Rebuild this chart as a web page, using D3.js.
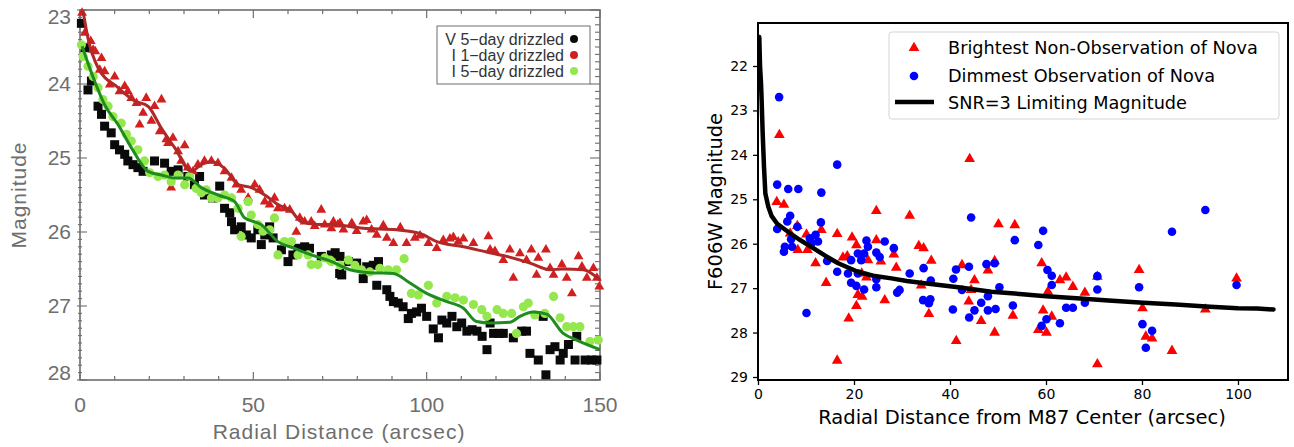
<!DOCTYPE html>
<html>
<head>
<meta charset="utf-8">
<script src="https://cdn.jsdelivr.net/npm/d3@7"></script>
<style>
  body { margin: 0; background: #fff; }
  svg { display: block; }
</style>
</head>
<body>
<svg id="chart" width="1294" height="447"></svg>
<script>
// ---- left panel data (radial distance arcsec, magnitude) ----
var leftXTicks = [0, 50, 100, 150];
var leftYTicks = [23, 24, 25, 26, 27, 28];
var leftLegend = ["V 5\u2212day drizzled", "I 1\u2212day drizzled", "I 5\u2212day drizzled"];

var vFiveDay = [
  [0.4,23.18],[1.5,23.51],[3.3,23.96],[2.3,24.08],[5.2,24.3],[6.2,24.41],[7.1,24.57],[9.0,24.66],
  [10,24.82],[11.4,24.89],[12.9,24.95],[13.8,25.04],[15.3,25.09],[16.7,25.13],[18.2,25.18],[21.5,25.04],
  [24.4,25.07],[26.3,25.18],[28.3,25.16],[31.1,25.25],[33,25.36],[34.5,25.25],[35.9,25.5],[38.3,25.54],
  [40.3,25.38],[41.7,25.68],[43.2,25.74],[43.7,25.86],[44.6,25.97],[46.5,25.93],[48,26.04],[49.4,26.08],
  [51.3,25.97],[52.3,26.17],[53.3,26.04],[54.7,25.93],[55.7,26.08],[58.1,26.24],[60,26.4],[61.4,26.31],
  [62.9,26.22],[64.8,26.2],[66.2,26.22],[69.6,26.33],[72.5,26.31],[74.9,26.56],[73.6,26.28],[75,26.33],
  [75.5,26.58],[77.4,26.4],[79.8,26.42],[81.7,26.63],[82.7,26.47],[84.6,26.45],[86.1,26.4],[85.6,26.72],
  [88.5,26.78],[89.4,26.87],[90.4,26.94],[91.8,26.96],[93.2,27.01],[94.7,27.17],[95.6,27.1],[97.1,27.08],
  [98.5,27.03],[100,27.14],[101.9,27.31],[103.4,27.43],[104.4,27.19],[105.8,27.23],[107.3,27.14],[108.7,27.28],
  [110.1,27.23],[111.6,27.34],[113.1,27.32],[114.5,27.34],[116,27.41],[117.4,27.59],[118.3,27.23],[119.3,27.37],
  [120.8,27.37],[122.1,27.37],[125,27.43],[127.4,27.34],[128.8,27.34],[129.8,27.64],[132.2,27.73],[133.6,27.14],
  [134.4,27.93],[135.6,27.59],[137,27.55],[138.5,27.73],[139.4,27.64],[140.9,27.52],[142.8,27.73],[143.3,27.41],
  [145.7,27.73],[147.6,27.73],[149.1,27.73]
];

var iOneDay = [
  [0.6,23.04],[1.4,23.31],[3.1,23.42],[3.8,23.54],[4.4,23.56],[6.2,23.65],[5.7,23.81],[7.1,23.83],
  [8.6,24.01],[10,23.9],[11.4,24.1],[12.9,24.03],[13.8,24.1],[14.8,24.19],[16.3,24.26],[19.1,24.19],
  [23.5,24.21],[18.2,24.39],[21.5,24.3],[20.6,24.5],[17.2,24.55],[23,24.64],[24.9,24.75],[26.8,24.73],
  [25.4,24.8],[28.3,24.91],[30.2,24.83],[29.2,25.04],[31.1,25.13],[32.6,25.18],[26.3,25.4],[34,25.09],
  [35.9,25.04],[37.9,25.04],[39.8,25.07],[41.7,25.18],[43.7,25.27],[45.1,25.36],[46.5,25.43],[48.5,25.54],
  [50.4,25.36],[51.8,25.43],[53.3,25.59],[54.7,25.63],[56.1,25.54],[57.1,25.68],[59,25.68],[60.5,25.7],
  [62.4,26.0],[63.4,25.81],[64.8,25.86],[66.7,25.86],[67.7,25.92],[69.6,25.7],[70.6,25.9],[72.5,25.95],
  [74.4,25.9],[73.1,25.86],[75,25.88],[76,25.97],[78.4,25.88],[79.8,25.99],[81.7,25.86],[82.7,25.84],
  [84.1,25.97],[85.6,26.04],[87.5,25.91],[88.5,26.08],[90.4,26.15],[92.4,25.94],[94.2,26.15],[96.6,26.08],
  [98.1,26.05],[100.5,26.15],[102.9,26.22],[104.8,26.11],[106.7,26.09],[107.7,26.07],[109.1,26.13],[110.6,26.09],
  [113.5,26.15],[117.8,26.06],[118.3,26.24],[119.7,26.26],[122.1,26.38],[124,26.24],[125,26.62],[126.9,26.29],
  [128.8,26.38],[130.2,26.24],[131.7,26.58],[132.2,26.35],[134.4,26.24],[135.6,26.49],[136.6,26.58],[139,26.44],
  [140.4,26.62],[141.9,26.83],[143.8,26.33],[144.8,26.47],[146.2,26.62],[148.1,26.49],[149.1,26.62],[149.8,26.74]
];

var iFiveDay = [
  [0.4,23.47],[0.9,23.63],[2.3,23.76],[3.8,23.9],[5.2,24.05],[6.6,24.21],[8.1,24.3],[9.5,24.44],
  [11.9,24.53],[13.4,24.68],[14.8,24.77],[16.7,24.89],[18.6,25.04],[20.1,25.2],[22.5,25.25],[24.4,25.23],
  [26.3,25.32],[28.3,25.23],[30.2,25.36],[31.6,25.25],[33.5,25.41],[35,25.47],[36.4,25.43],[37.9,25.54],
  [39.8,25.54],[41.7,25.5],[43.7,25.54],[45.6,25.68],[46.5,26.06],[48.5,25.59],[49.4,25.77],[51.3,25.9],
  [52.8,25.99],[54.7,25.97],[56.1,25.81],[57.1,26.31],[59,26.13],[61,26.13],[62.9,26.31],[65.8,26.31],
  [66.7,26.44],[68.6,26.44],[70.6,26.35],[72.5,26.4],[72.1,26.38],[75,26.45],[77.4,26.38],[79.3,26.45],
  [81.2,26.51],[83.6,26.54],[86.5,26.49],[88.9,26.51],[91.3,26.51],[93.5,26.36],[95.6,26.83],[97.6,26.85],
  [100.5,26.72],[102.9,26.96],[105.8,26.87],[108.2,26.89],[110.6,26.92],[113.5,26.98],[115.9,27.05],[117.4,27.14],
  [120.3,27.05],[122.1,27.1],[124.5,27.1],[125.9,27.37],[127.9,27.01],[129.3,26.96],[131.2,27.12],[134.1,27.1],
  [136.6,26.87],[138.5,27.16],[140.4,27.28],[142.3,27.28],[144.2,27.28],[147.1,27.48],[149.5,27.46]
];

var iOneDayFit = [
  [0.9,23.02],[2.3,23.38],[5.2,23.78],[11,24.05],[15.8,24.23],[19.6,24.3],[23.5,24.6],[27.3,24.86],
  [32.1,25.18],[35,25.09],[37.9,25.05],[41.7,25.14],[45.6,25.36],[49.4,25.4],[53.3,25.5],[57.1,25.63],
  [61,25.72],[63.8,25.86],[68.6,25.9],[72.1,25.9],[81.7,25.95],[91.3,25.97],[98.1,26.02],[102.9,26.13],
  [110.6,26.2],[117.3,26.27],[123.1,26.33],[129.8,26.42],[135.6,26.51],[139.4,26.5],[145.2,26.51],[150,26.65]
];

var iFiveDayFit = [
  [0.6,23.49],[4.2,23.96],[7.1,24.28],[11,24.55],[14.8,24.86],[19.6,25.18],[23.5,25.23],[27.3,25.27],
  [31.2,25.27],[35,25.4],[39.8,25.5],[44.6,25.59],[47.5,25.81],[52.3,25.9],[57.1,26.13],[61.9,26.22],
  [66.7,26.31],[72.1,26.39],[77.9,26.51],[83.6,26.55],[90.4,26.56],[95.2,26.69],[100,26.83],[105.8,26.94],
  [110.6,27.03],[114.4,27.21],[118.3,27.23],[124,27.22],[126.9,27.14],[130.7,27.08],[134.6,27.11],[139.4,27.37],
  [143.3,27.46],[150,27.59]
];

// ---- right panel data ----
var rightXTicks = [0, 20, 40, 60, 80, 100];
var rightYTicks = [22, 23, 24, 25, 26, 27, 28, 29];
var rightLegend = ["Brightest Non-Observation of Nova", "Dimmest Observation of Nova", "SNR=3 Limiting Magnitude"];

var brightestNonObs = [
  [4.45,23.55],[3.9,25.06],[5.4,25.12],[24.65,25.26],[31.6,25.37],[44.1,24.09],[50.1,25.56],[53.5,25.58],
  [8.2,25.6],[13.2,25.69],[16.5,25.78],[10.1,25.79],[6.7,25.77],[19.6,25.86],[24.65,25.92],[20.5,26.03],
  [8.3,26.14],[10.3,26.14],[33.5,26.05],[34.5,26.1],[28.3,26.24],[17.7,26.31],[18.6,26.28],[36.1,26.38],
  [12.0,26.44],[25.6,26.4],[28.8,26.54],[22.9,26.37],[14.2,26.88],[22.6,26.76],[21.6,26.67],[42.5,26.48],
  [45.1,26.82],[47.9,26.6],[49.3,26.39],[20.8,27.15],[21.7,27.19],[26.4,27.27],[20.5,27.4],[35.6,27.58],
  [43.9,27.3],[44.4,27.04],[46.5,27.74],[53.1,27.62],[18.9,27.68],[41.3,28.19],[49.3,28.0],[16.5,28.63],
  [34.0,26.94],[59.1,26.44],[62.9,26.82],[64.2,26.76],[65.6,26.97],[68.1,27.1],[70.7,26.74],[60.4,27.08],
  [59.4,27.5],[61.2,27.64],[58.4,27.94],[60.1,28.0],[79.4,26.59],[80.1,27.45],[80.8,28.09],[82.1,28.13],
  [86.25,28.41],[70.7,28.71],[93.2,27.48],[99.7,26.78]
];

var dimmestObs = [
  [4.4,22.7],[4.0,24.67],[6.3,24.77],[8.4,24.77],[13.2,24.85],[16.5,24.22],[44.4,25.41],[6.7,25.37],
  [6.1,25.5],[13.1,25.52],[8.2,25.62],[4.0,25.67],[53.5,25.92],[6.9,25.9],[5.6,26.07],[5.4,26.18],
  [7.1,26.07],[10.8,25.88],[12.0,25.8],[12.5,25.95],[11.1,26.0],[14.4,26.39],[16.5,26.63],[18.75,26.67],
  [19.4,26.37],[20.8,26.22],[22.6,25.93],[22.9,26.07],[22.1,26.22],[21.5,26.37],[24.65,26.2],[25.35,26.3],
  [26.4,25.95],[28.3,26.1],[19.4,26.88],[20.5,26.95],[22.1,27.03],[20.8,26.67],[24.65,26.98],[24.65,26.8],
  [29.0,27.1],[29.5,27.04],[31.6,26.67],[34.5,26.55],[36.0,26.83],[34.4,27.27],[35.6,27.34],[35.9,27.25],
  [10.1,27.56],[40.7,26.79],[41.25,26.58],[43.95,26.52],[47.6,26.46],[49.3,26.44],[42.5,27.04],[40.6,27.48],
  [44.0,27.66],[45.1,27.5],[46.5,27.33],[47.9,27.5],[47.9,27.18],[49.5,27.47],[50.3,26.98],[53.1,27.39],
  [59.4,25.71],[58.4,26.03],[60.3,26.59],[61.2,26.72],[61.2,26.93],[64.2,27.44],[65.6,27.44],[68.1,27.33],
  [60.1,27.7],[59.1,27.85],[62.9,27.79],[70.7,26.73],[70.7,27.03],[79.4,26.98],[86.25,25.73],[93.2,25.24],
  [99.7,26.93],[80.1,27.81],[82.1,27.96],[80.8,28.34]
];

var snrLimit = [
  [0.27,21.35],[0.42,22.0],[0.63,22.39],[0.76,22.77],[0.97,23.5],[1.25,24.27],[1.53,24.87],[2.15,25.17],
  [2.85,25.38],[4,25.55],[6.25,25.73],[8.5,25.9],[11.1,26.07],[14,26.27],[16.7,26.44],[20.8,26.63],
  [24,26.72],[27.8,26.78],[31,26.84],[34.7,26.89],[41.7,26.98],[48.6,27.08],[54.5,27.13],[60,27.18],
  [66.4,27.23],[73,27.28],[80.3,27.33],[87,27.37],[94.2,27.42],[100,27.45],[104,27.46],[107.4,27.48]
];

var svg = d3.select("#chart");

// ================= LEFT PANEL =================
var L = {left: 80, right: 600, top: 10, bottom: 380};
var lx = d3.scaleLinear().domain([0, 150]).range([L.left, L.right]);
var ly = d3.scaleLinear().domain([23, 28]).range([L.top, L.bottom]);
var grey = "#6e6e6e";
var lfont = "Liberation Sans, Arial, sans-serif";

var left = svg.append("g");

// ticks (IDL style box)
var minorX = d3.range(0, 151, 10);
var minorY = d3.range(23, 28.001, 0.1);
minorX.forEach(function(v) {
  var major = v % 50 == 0;
  var len = major ? 8 : 4;
  left.append("line").attr("x1", lx(v)).attr("x2", lx(v))
    .attr("y1", L.bottom).attr("y2", L.bottom - len).attr("stroke", grey).attr("stroke-width", 1.2);
  left.append("line").attr("x1", lx(v)).attr("x2", lx(v))
    .attr("y1", L.top).attr("y2", L.top + len).attr("stroke", grey).attr("stroke-width", 1.2);
});
minorY.forEach(function(v) {
  var major = Math.abs(v - Math.round(v)) < 0.001;
  var len = major ? 9 : 4;
  left.append("line").attr("x1", L.left - (major ? 3 : 2)).attr("x2", L.left + len - 2)
    .attr("y1", ly(v)).attr("y2", ly(v)).attr("stroke", grey).attr("stroke-width", 1.1);
  left.append("line").attr("x1", L.right).attr("x2", L.right - len - 1)
    .attr("y1", ly(v)).attr("y2", ly(v)).attr("stroke", grey).attr("stroke-width", 1.1);
});

left.append("rect")
  .attr("x", L.left).attr("y", L.top)
  .attr("width", L.right - L.left).attr("height", L.bottom - L.top)
  .attr("fill", "none").attr("stroke", grey).attr("stroke-width", 1.6);

left.selectAll(".xlab").data(leftXTicks).enter().append("text")
  .attr("x", d => lx(d)).attr("y", 412)
  .attr("text-anchor", "middle")
  .style("font-family", lfont).style("font-size", "21px").style("fill", grey)
  .text(d => d);

left.selectAll(".ylab").data(leftYTicks).enter().append("text")
  .attr("x", 71).attr("y", d => Math.min(Math.max(ly(d) + 7, 24), 380))
  .attr("text-anchor", "end")
  .style("font-family", lfont).style("font-size", "21px").style("fill", grey)
  .text(d => d);

left.append("text")
  .attr("x", 339).attr("y", 439)
  .attr("text-anchor", "middle")
  .style("font-family", lfont).style("font-size", "21px").style("fill", grey)
  .style("letter-spacing", "1px")
  .text("Radial Distance (arcsec)");

left.append("text")
  .attr("transform", "translate(26,195) rotate(-90)")
  .attr("text-anchor", "middle")
  .style("font-family", lfont).style("font-size", "21px").style("fill", grey)
  .style("letter-spacing", "1px")
  .text("Magnitude");

var lplot = left.append("g");

lplot.selectAll(".sq").data(vFiveDay).enter().append("rect")
  .attr("x", d => lx(d[0]) - 4.5).attr("y", d => ly(d[1]) - 4.5)
  .attr("width", 9).attr("height", 9).attr("fill", "#0a0a0a");

lplot.selectAll(".tri").data(iOneDay).enter().append("path")
  .attr("d", d3.symbol().type(d3.symbolTriangle).size(42))
  .attr("transform", d => "translate(" + lx(d[0]) + "," + ly(d[1]) + ")")
  .attr("fill", "#d21f1f");

lplot.selectAll(".gc").data(iFiveDay).enter().append("circle")
  .attr("cx", d => lx(d[0])).attr("cy", d => ly(d[1])).attr("r", 4.6)
  .attr("fill", "#94e84e");

var lline = d3.line().x(d => lx(d[0])).y(d => ly(d[1])).curve(d3.curveMonotoneX);

lplot.append("path").datum(iOneDayFit)
  .attr("d", lline).attr("fill", "none")
  .attr("stroke", "#b02828").attr("stroke-width", 3).attr("stroke-linejoin", "round");

lplot.append("path").datum(iFiveDayFit)
  .attr("d", lline).attr("fill", "none")
  .attr("stroke", "#1e8c1e").attr("stroke-width", 3).attr("stroke-linejoin", "round");

// legend
var lleg = left.append("g");
lleg.append("rect").attr("x", 437).attr("y", 26).attr("width", 153).attr("height", 58)
  .attr("fill", "#fff").attr("stroke", grey).attr("stroke-width", 1);
var legColors = ["#0a0a0a", "#d21f1f", "#94e84e"];
leftLegend.forEach(function(t, i) {
  lleg.append("text").attr("x", 564).attr("y", 45 + i * 16)
    .attr("text-anchor", "end")
    .style("font-family", lfont).style("font-size", "16px").style("fill", "#333")
    .text(t);
  lleg.append("circle").attr("cx", 574).attr("cy", 39 + i * 16).attr("r", 4)
    .attr("fill", legColors[i]);
});

// ================= RIGHT PANEL =================
var R = {left: 758, right: 1288, top: 23, bottom: 380};
var rx = d3.scaleLinear().domain([0, 110.42]).range([R.left, R.right]);
var ry = d3.scaleLinear().domain([22, 29]).range([66, 377]);
var rfont = "DejaVu Sans, sans-serif";

var right = svg.append("g");

right.append("g")
  .attr("transform", "translate(0," + R.bottom + ")")
  .call(d3.axisBottom(rx).tickValues(rightXTicks).tickFormat(d3.format("d")).tickSize(5).tickPadding(4))
  .call(g => g.select(".domain").remove())
  .call(g => g.selectAll("line").attr("stroke-width", 1.3))
  .call(g => g.selectAll("text").style("font-family", rfont).style("font-size", "14px").attr("fill", "#000"));

right.append("g")
  .attr("transform", "translate(" + R.left + ",0)")
  .call(d3.axisLeft(ry).tickValues(rightYTicks).tickFormat(d3.format("d")).tickSize(5).tickPadding(5))
  .call(g => g.select(".domain").remove())
  .call(g => g.selectAll("line").attr("stroke-width", 1.3))
  .call(g => g.selectAll("text").style("font-family", rfont).style("font-size", "14px").attr("fill", "#000"));

right.append("text")
  .attr("x", 1022).attr("y", 424)
  .attr("text-anchor", "middle")
  .style("font-family", rfont).style("font-size", "19.5px")
  .text("Radial Distance from M87 Center (arcsec)");

right.append("text")
  .attr("transform", "translate(722," + ((R.top + R.bottom) / 2) + ") rotate(-90)")
  .attr("text-anchor", "middle")
  .style("font-family", rfont).style("font-size", "19.5px")
  .text("F606W Magnitude");

var rplot = right.append("g");

var triSym = d3.symbol().type(d3.symbolTriangle).size(50);
rplot.selectAll(".rt").data(brightestNonObs).enter().append("path")
  .attr("d", triSym)
  .attr("transform", d => "translate(" + rx(d[0]) + "," + ry(d[1]) + ")")
  .attr("fill", "#ff0000");

rplot.selectAll(".bc").data(dimmestObs).enter().append("circle")
  .attr("cx", d => rx(d[0])).attr("cy", d => ry(d[1])).attr("r", 4.3)
  .attr("fill", "#0000ff");

rplot.append("path").datum(snrLimit)
  .attr("d", d3.line().x(d => rx(d[0])).y(d => ry(d[1])))
  .attr("fill", "none").attr("stroke", "#000").attr("stroke-width", 4.5)
  .attr("stroke-linejoin", "round").attr("stroke-linecap", "round");

right.append("rect")
  .attr("x", R.left).attr("y", R.top)
  .attr("width", R.right - R.left).attr("height", R.bottom - R.top)
  .attr("fill", "none").attr("stroke", "#000").attr("stroke-width", 2);

// legend
var rleg = right.append("g");
rleg.append("rect").attr("x", 889).attr("y", 32).attr("width", 390).attr("height", 87)
  .attr("rx", 3).attr("fill", "#fff").attr("fill-opacity", 0.8)
  .attr("stroke", "#d5d5d5").attr("stroke-width", 1);
rleg.append("path").attr("d", triSym)
  .attr("transform", "translate(914,48)").attr("fill", "#ff0000");
rleg.append("circle").attr("cx", 914).attr("cy", 76).attr("r", 4.3).attr("fill", "#0000ff");
rleg.append("line").attr("x1", 895).attr("x2", 934).attr("y1", 102).attr("y2", 102)
  .attr("stroke", "#000").attr("stroke-width", 4.5);
rightLegend.forEach(function(t, i) {
  rleg.append("text").attr("x", 948).attr("y", 54 + i * 27.5)
    .style("font-family", rfont).style("font-size", "17.7px")
    .text(t);
});
</script>
</body>
</html>
